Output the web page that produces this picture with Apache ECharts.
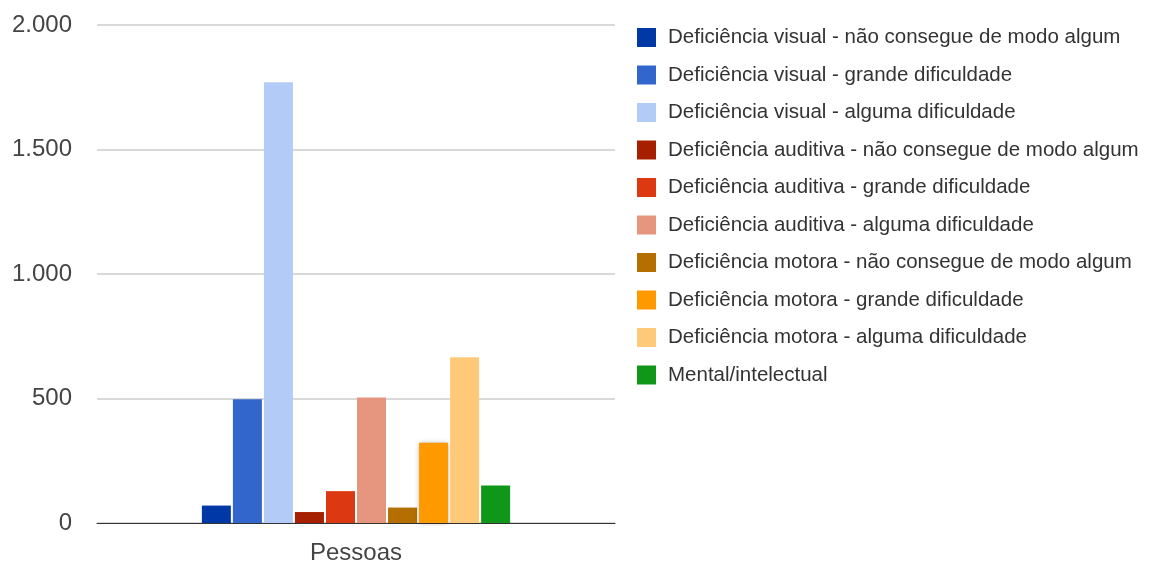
<!DOCTYPE html>
<html>
<head>
<meta charset="utf-8">
<script src="https://cdn.jsdelivr.net/npm/echarts@6/dist/echarts.min.js"></script>
<style>
  html, body { margin: 0; padding: 0; background: #fff; }
  #chart { width: 1173px; height: 564px; }
</style>
</head>
<body>
<div id="chart"></div>
<script>
const categories = ['Pessoas'];
const seriesNames = [
  'Deficiência visual - não consegue de modo algum',
  'Deficiência visual - grande dificuldade',
  'Deficiência visual - alguma dificuldade',
  'Deficiência auditiva - não consegue de modo algum',
  'Deficiência auditiva - grande dificuldade',
  'Deficiência auditiva - alguma dificuldade',
  'Deficiência motora - não consegue de modo algum',
  'Deficiência motora - grande dificuldade',
  'Deficiência motora - alguma dificuldade',
  'Mental/intelectual'
];
const seriesValues = [70, 497, 1770, 44, 128, 504, 62, 322, 666, 151];
const colors = ['#0039a6', '#3366cc', '#b3cbf7', '#a51f00', '#dc3912', '#e6967f', '#b56f00', '#ff9900', '#ffc97a', '#109618'];
const yTicks = [0, 500, 1000, 1500, 2000];

const fmt = (v) => String(v).replace(/\B(?=(\d{3})+(?!\d))/g, '.');

const chart = echarts.init(document.getElementById('chart'));
chart.setOption({
  animation: false,
  textStyle: { fontFamily: 'Liberation Sans, Arial, sans-serif' },
  grid: { left: 97, right: 558, top: 25, bottom: 41, outerBoundsMode: 'none', containLabel: false },
  legend: {
    orient: 'vertical',
    left: 632,
    top: 22,
    itemWidth: 19,
    itemHeight: 19,
    itemGap: 16.5,
    icon: 'rect',
    textStyle: { fontSize: 20.5, color: '#333', padding: [0, 0, 0, 7] },
    data: seriesNames
  },
  xAxis: {
    type: 'category',
    data: categories,
    axisLine: { lineStyle: { color: '#333', width: 1 } },
    axisTick: { show: false },
    axisLabel: { fontSize: 24, color: '#444', margin: 18 }
  },
  yAxis: {
    type: 'value',
    min: yTicks[0],
    max: yTicks[yTicks.length - 1],
    interval: 500,
    axisLine: { show: false },
    axisTick: { show: false },
    splitLine: { lineStyle: { color: '#cccccc', width: 1.5 } },
    axisLabel: { fontSize: 24, color: '#444', margin: 25, formatter: fmt }
  },
  series: seriesNames.map((name, i) => ({
    name,
    type: 'bar',
    barWidth: 29,
    barGap: '7%',
    itemStyle: i === 7
      ? { color: colors[i], shadowColor: 'rgba(0,0,0,0.35)', shadowBlur: 5 }
      : { color: colors[i] },
    data: [seriesValues[i]]
  }))
});
</script>
</body>
</html>
